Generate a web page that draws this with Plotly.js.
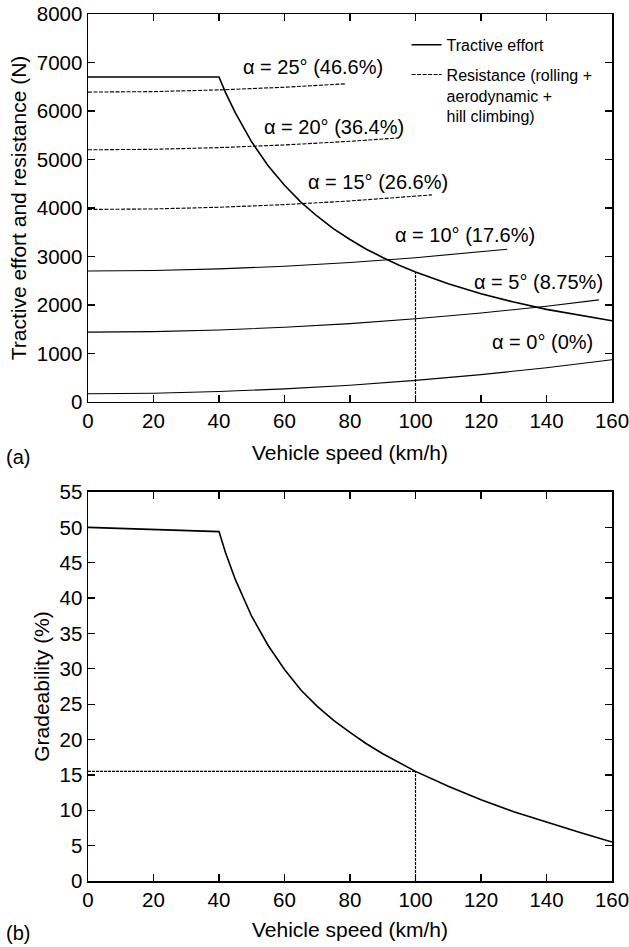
<!DOCTYPE html>
<html>
<head>
<meta charset="utf-8">
<script src="https://cdn.plot.ly/plotly-3.0.1.min.js"></script>
<style>html,body{margin:0;padding:0;background:#fff;}#chart{width:629px;height:947px;}</style>
</head>
<body>
<div id="chart"></div>
<script>
// ---- Data ----
// (a) Tractive effort (N) vs vehicle speed (km/h)
const speedTE = [0, 40, 42, 45, 50, 55, 60, 65, 70, 75, 80, 85, 90, 95, 100, 110, 120, 130, 140, 150, 160];
const tractive = [6700, 6700, 6380, 5960, 5360, 4870, 4470, 4120, 3830, 3570, 3350, 3150, 2980, 2820, 2680, 2440, 2230, 2060, 1910, 1790, 1675];

// Resistance curves (rolling + aerodynamic + hill climbing), N
const speedR25 = [0, 20, 40, 60, 78.5];
const res25 = [6390, 6400, 6435, 6490, 6560];
const speedR20 = [0, 20, 40, 60, 80, 95];
const res20 = [5200, 5210, 5245, 5300, 5375, 5445];
const speedR15 = [0, 20, 40, 60, 80, 105];
const res15 = [3970, 3980, 4015, 4070, 4145, 4270];
const speedR10 = [0, 20, 40, 60, 80, 100, 128];
const res10 = [2700, 2710, 2745, 2800, 2875, 2975, 3150];
const speedR5 = [0, 20, 40, 60, 80, 100, 120, 140, 156];
const res5 = [1440, 1450, 1485, 1540, 1615, 1715, 1835, 1975, 2105];
const speedR0 = [0, 20, 40, 60, 80, 100, 120, 140, 160];
const res0 = [170, 180, 215, 270, 345, 445, 565, 705, 870];

// Marker line at 100 km/h (top)
const markSpeedA = [100, 100];
const markForceA = [0, 2680];

// Curve labels
const labelText = ['α = 25° (46.6%)', 'α = 20° (36.4%)', 'α = 15° (26.6%)', 'α = 10° (17.6%)', 'α = 5° (8.75%)', 'α = 0° (0%)'];
const labelSpeed = [68.6, 75.2, 88.5, 115.2, 137.5, 138.9];
const labelForce = [6900, 5680, 4540, 3440, 2480, 1240];

// (b) Gradeability (%) vs vehicle speed
const speedG = [0, 20, 40, 42, 45, 50, 55, 60, 65, 70, 75, 80, 85, 90, 95, 100, 110, 120, 130, 140, 150, 160];
const grade = [50.0, 49.7, 49.4, 46.4, 42.6, 37.4, 33.3, 29.9, 27.0, 24.7, 22.7, 21.0, 19.4, 18.0, 16.7, 15.5, 13.4, 11.5, 9.8, 8.3, 6.9, 5.5];
const markSpeedBh = [0, 100];
const markGradeBh = [15.5, 15.5];
const markSpeedBv = [100, 100];
const markGradeBv = [0, 15.5];

// Ticks
const xTicks = [0, 20, 40, 60, 80, 100, 120, 140, 160];
const yTicksA = [0, 1000, 2000, 3000, 4000, 5000, 6000, 7000, 8000];
const yTicksB = [0, 5, 10, 15, 20, 25, 30, 35, 40, 45, 50, 55];

// ---- Plot ----
const FONT = 'Liberation Sans, Arial, sans-serif';
const dashed = '4px,1.5px';

function res(x, y, name, show, dash) {
  return {x: x, y: y, xaxis: 'x', yaxis: 'y', type: 'scatter', mode: 'lines',
    name: name, showlegend: show, legendgroup: 'res', hoverinfo: 'skip',
    line: {color: '#000', width: 1.1, dash: dash}};
}

const traces = [
  {x: speedTE, y: tractive, xaxis: 'x', yaxis: 'y', type: 'scatter', mode: 'lines',
   name: 'Tractive effort', showlegend: true, legendgroup: 'te', line: {color: '#000', width: 1.6}},
  res(speedR25, res25, 'Resistance (rolling +<br>aerodynamic +<br>hill climbing)', true, dashed),
  res(speedR20, res20, '', false, dashed),
  res(speedR15, res15, '', false, dashed),
  res(speedR10, res10, '', false, 'solid'),
  res(speedR5, res5, '', false, 'solid'),
  res(speedR0, res0, '', false, 'solid'),
  {x: markSpeedA, y: markForceA, xaxis: 'x', yaxis: 'y', type: 'scatter', mode: 'lines',
   showlegend: false, line: {color: '#000', width: 1.2, dash: '3px,1px'}},
  {x: speedG, y: grade, xaxis: 'x2', yaxis: 'y2', type: 'scatter', mode: 'lines',
   showlegend: false, line: {color: '#000', width: 1.6}},
  {x: markSpeedBh, y: markGradeBh, xaxis: 'x2', yaxis: 'y2', type: 'scatter', mode: 'lines',
   showlegend: false, line: {color: '#000', width: 1.2, dash: '3px,1px'}},
  {x: markSpeedBv, y: markGradeBv, xaxis: 'x2', yaxis: 'y2', type: 'scatter', mode: 'lines',
   showlegend: false, line: {color: '#000', width: 1.2, dash: '3px,1px'}}
];

const axisCommon = {
  showline: true, linecolor: '#000', linewidth: 1.5, mirror: 'ticks',
  ticks: 'inside', ticklen: 7, tickwidth: 1.3, tickcolor: '#000',
  showgrid: false, zeroline: false, ticklabeloverflow: 'allow',
  tickfont: {family: FONT, size: 20.5, color: '#000'}
};

const annotations = labelText.map((t, i) => ({
  x: labelSpeed[i], y: labelForce[i], xref: 'x', yref: 'y', text: t, showarrow: false,
  font: {family: FONT, size: 20, color: '#000'}, xanchor: 'center', yanchor: 'middle'
}));
annotations.push({x: -0.16, y: 0.489, xref: 'paper', yref: 'paper', text: '(a)', showarrow: false,
  xanchor: 'left', yanchor: 'middle', font: {family: FONT, size: 20, color: '#000'}});
annotations.push({x: -0.16, y: -0.06, xref: 'paper', yref: 'paper', text: '(b)', showarrow: false,
  xanchor: 'left', yanchor: 'middle', font: {family: FONT, size: 20, color: '#000'}});

const titleFont = {family: FONT, size: 21, color: '#000'};
const layout = {
  width: 629, height: 947,
  margin: {l: 88, r: 17, t: 14, b: 66},
  paper_bgcolor: '#fff', plot_bgcolor: '#fff',
  font: {family: FONT, color: '#000'},
  showlegend: true,
  legend: {x: 0.608, y: 0.984, xanchor: 'left', yanchor: 'top', bgcolor: 'rgba(0,0,0,0)',
    font: {family: FONT, size: 16, color: '#000'}, valign: 'top', tracegroupgap: 6,
    traceorder: 'grouped'},
  xaxis: Object.assign({}, axisCommon, {domain: [0, 1], anchor: 'y', range: [0, 160],
    tickmode: 'array', tickvals: xTicks,
    title: {text: 'Vehicle speed (km/h)', font: titleFont, standoff: 14}}),
  yaxis: Object.assign({}, axisCommon, {domain: [0.5525, 1], anchor: 'x', range: [0, 8000],
    tickmode: 'array', tickvals: yTicksA,
    title: {text: 'Tractive effort and resistance (N)', font: titleFont, standoff: 4}}),
  xaxis2: Object.assign({}, axisCommon, {domain: [0, 1], anchor: 'y2', range: [0, 160],
    tickmode: 'array', tickvals: xTicks,
    title: {text: 'Vehicle speed (km/h)', font: titleFont, standoff: 12}}),
  yaxis2: Object.assign({}, axisCommon, {domain: [0, 0.4487], anchor: 'x2', range: [0, 55],
    tickmode: 'array', tickvals: yTicksB,
    title: {text: 'Gradeability (%)', font: titleFont, standoff: 4}}),
  annotations: annotations
};

Plotly.newPlot('chart', traces, layout, {displayModeBar: false, staticPlot: true});
</script>
</body>
</html>
